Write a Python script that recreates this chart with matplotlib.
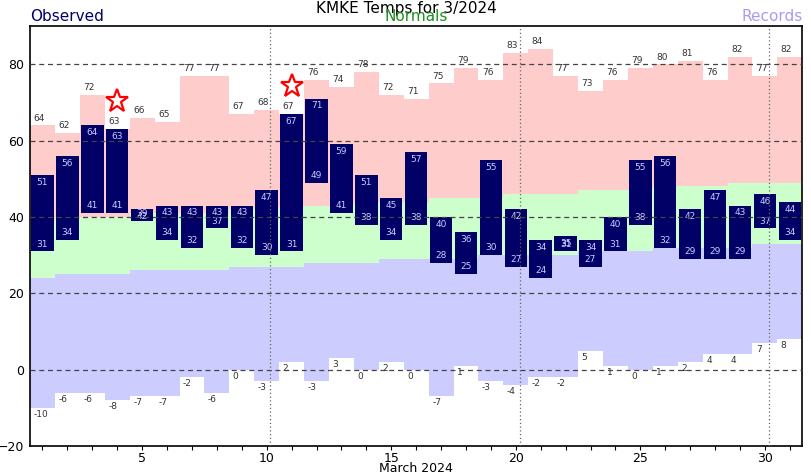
import numpy as np
import matplotlib.pyplot as plt

# March 2024 daily temps at KMKE (degF)
days = np.arange(1, 32)
obs_high = [51, 56, 64, 63, 42, 43, 43, 43, 43, 47, 67, 71, 59, 51, 45, 57, 40, 36, 55, 42,
            34, 35, 34, 40, 55, 56, 42, 47, 43, 46, 44]
obs_low = [31, 34, 41, 41, 39, 34, 32, 37, 32, 30, 31, 49, 41, 38, 34, 38, 28, 25, 30, 27,
           24, 31, 27, 31, 38, 32, 29, 29, 29, 37, 34]
norm_high = [39, 40, 40, 40, 41, 41, 41, 41, 42, 42, 43, 43, 43, 44, 44, 44, 45, 45, 45, 46,
             46, 46, 47, 47, 47, 48, 48, 48, 49, 49, 49]
norm_low = [24, 25, 25, 25, 26, 26, 26, 26, 27, 27, 27, 28, 28, 28, 29, 29, 29, 29, 30, 30,
            30, 30, 31, 31, 31, 32, 32, 32, 32, 33, 33]
rec_high = [64, 62, 72, 63, 66, 65, 77, 77, 67, 68, 67, 76, 74, 78, 72, 71, 75, 79, 76, 83,
            84, 77, 73, 76, 79, 80, 81, 76, 82, 77, 82]
rec_low = [-10, -6, -6, -8, -7, -7, -2, -6, 0, -3, 2, -3, 3, 0, 2, 0, -7, 1, -3, -4,
           -2, -2, 5, 1, 0, 1, 2, 4, 4, 7, 8]

obs_high = np.array(obs_high)
obs_low = np.array(obs_low)
norm_high = np.array(norm_high)
norm_low = np.array(norm_low)
rec_high = np.array(rec_high)
rec_low = np.array(rec_low)

fig = plt.figure(figsize=(8.12, 4.76), dpi=100)
ax = fig.add_axes([0.037, 0.063, 0.951, 0.882])

# record / normal bands
ax.bar(days, rec_high - norm_high, bottom=norm_high, width=1.0, color='#ffcccc', zorder=1)
ax.bar(days, norm_high - norm_low, bottom=norm_low, width=1.0, color='#ccffcc', zorder=1)
ax.bar(days, norm_low - rec_low, bottom=rec_low, width=1.0, color='#ccccff', zorder=1)

# observed
ax.bar(days, obs_high - obs_low, bottom=obs_low, width=0.9, color='#000066', zorder=2)

for d, hi, lo, rh, rl in zip(days, obs_high, obs_low, rec_high, rec_low):
    ax.annotate(str(hi), (d, hi), xytext=(0, -2), textcoords='offset points',
                ha='center', va='top', fontsize=6.5, color='#ccccff', zorder=3)
    ax.annotate(str(lo), (d, lo), xytext=(0, 2), textcoords='offset points',
                ha='center', va='bottom', fontsize=6.5, color='#ccccff', zorder=3)
    ax.annotate(str(rh), (d - 0.36, rh), xytext=(0, 2), textcoords='offset points',
                ha='left', va='bottom', fontsize=6.5, color='#333333', zorder=3)
    ax.annotate(str(rl), (d - 0.36, rl), xytext=(0, -1.5), textcoords='offset points',
                ha='left', va='top', fontsize=6.5, color='#333333', zorder=3)

# record set / tied
rec_set = obs_high >= rec_high
ax.plot(days[rec_set], obs_high[rec_set] + 7.3, linestyle='none', marker='*',
        markersize=17, markerfacecolor='white', markeredgecolor='red', mew=1.6, zorder=4)

# grid on top
for yv in [0, 20, 40, 60, 80]:
    ax.axhline(yv, color='#444444', linestyle=(0, (4, 3)), linewidth=0.9, zorder=5)
for xv in [10.15, 20.15, 30.15]:
    ax.axvline(xv, color='#666666', linestyle=(0, (1, 2)), linewidth=0.9, zorder=5)

ax.set_xlim(0.5, 31.5)
ax.set_ylim(-20, 90)
ax.set_xticks([5, 10, 15, 20, 25, 30])
ax.set_xticks(days, minor=True)
ax.set_yticks([-20, 0, 20, 40, 60, 80])
ax.tick_params(axis='x', which='both', direction='out', length=3, width=0.8, labelsize=9, pad=1)
ax.tick_params(axis='y', length=0, labelsize=9, pad=4.5)
for s in ax.spines.values():
    s.set_linewidth(1.2)
ax.set_xlabel('March 2024', fontsize=9, labelpad=-2)

fig.text(0.5, 0.998, 'KMKE Temps for 3/2024', ha='center', va='top', fontsize=11)
fig.text(0.512, 0.95, 'Normals', ha='center', va='bottom', fontsize=11, color='#1f8f1f')
fig.text(0.037, 0.95, 'Observed', ha='left', va='bottom', fontsize=11, color='#000066')
fig.text(0.988, 0.95, 'Records', ha='right', va='bottom', fontsize=11, color='#a89cf0')

fig.savefig('out.png', dpi=100)
